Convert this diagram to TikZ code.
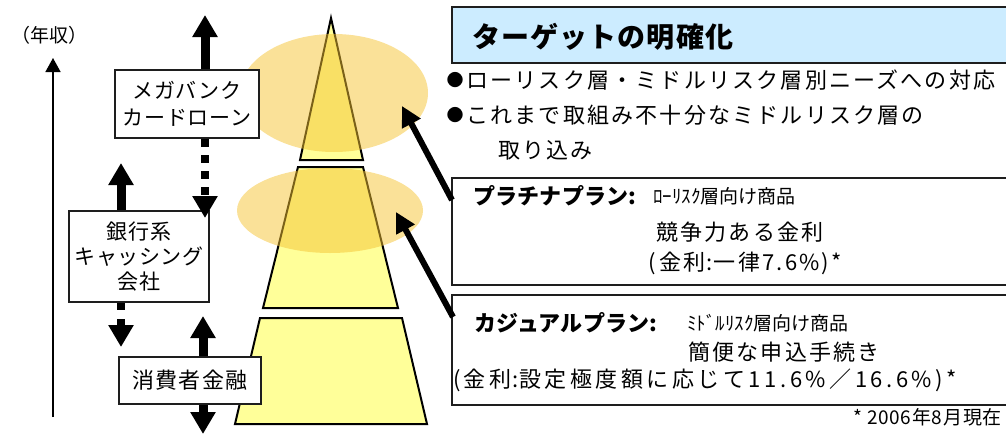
\documentclass[tikz,border=0pt]{standalone}
\usepackage{fontspec}
\setmainfont{Noto Sans CJK JP}
\usetikzlibrary{arrows.meta}
\definecolor{pyr}{RGB}{255,255,153}
\definecolor{ell}{RGB}{245,195,50}
\definecolor{hdr}{RGB}{204,236,255}
\definecolor{bord}{RGB}{30,30,30}
\begin{document}
\begin{tikzpicture}[x=1pt,y=-1pt,
  pyrpart/.style={draw=black, line width=2pt, fill=pyr, line join=miter},
  hilite/.style={fill=ell, fill opacity=0.5},
  leftbox/.style={draw=bord, line width=2pt, fill=white, align=center, inner sep=0pt,
    font=\fontsize{21}{27}\selectfont\addfontfeature{LetterSpace=4}},
  rbox/.style={draw=bord, line width=1.6pt},
  bigarrow/.style={line width=9pt, -{Triangle[width=24pt,length=22pt]}},
  ptrarrow/.style={line width=6pt, -{Triangle[width=20pt,length=20pt]}},
  txt/.style={anchor=west, inner sep=0pt, font=\fontsize{22}{26}\selectfont\addfontfeature{LetterSpace=10}},
  btxt/.style={anchor=west, inner sep=0pt, font=\fontsize{22}{26}\selectfont\bfseries\addfontfeature{LetterSpace=1}},
  stxt/.style={anchor=west, inner sep=0pt, font=\fontsize{19}{22}\selectfont},
  dot/.style={inner sep=0pt, font=\fontsize{17}{18}\selectfont}
]
\useasboundingbox (0,0) rectangle (1006,434);

% income axis
\node[inner sep=0pt, font=\fontsize{19}{20}\selectfont] (inc) at (50,35) {（年収）};
\coordinate (axbot) at (53,417);
\coordinate (axtop) at (53,58);
\draw[line width=1.5pt, -{Triangle[width=15pt,length=14pt]}] (axbot) -- (axtop);

% pyramid
\draw[pyrpart] (331,18) -- (363,160) -- (300,160) -- cycle;
\draw[pyrpart] (298,167) -- (363,167) -- (398,308) -- (263,308) -- cycle;
\draw[pyrpart] (260,318) -- (402,318) -- (427,424) -- (235,424) -- cycle;

% highlight ellipses
\fill[hilite] (334,93) ellipse [x radius=94pt, y radius=59pt];
\fill[hilite] (330,210.5) ellipse [x radius=93pt, y radius=42.5pt];
\coordinate (e1) at (402,106);
\coordinate (e2) at (396,212);

% left boxes
\node[leftbox, minimum width=144pt, minimum height=68pt] (mb) at (187,104) {メガバンク\\カードローン};
\node[leftbox, minimum width=140pt, minimum height=91pt, font=\fontsize{21}{25}\selectfont\addfontfeature{LetterSpace=3}] (bk) at (139,256.5) {銀行系\\キャッシング\\会社};
\node[leftbox, minimum width=142pt, minimum height=47pt, font=\fontsize{22}{25}\selectfont\addfontfeature{LetterSpace=6}] (cf) at (190,380.5) {消費者金融};

\coordinate (mbup) at (205,15);
\coordinate (mbdn) at (205,218);
\coordinate (bkup) at (121,163);
\coordinate (bkdn) at (121,347);
\coordinate (cfup) at (203,316);
\coordinate (cfdn) at (203,434);

\draw[bigarrow] (mb.north -| mbup) -- (mbup);
\draw[bigarrow, line width=8pt, dash pattern=on 8pt off 8pt] (mb.south -| mbdn) -- (mbdn);
\draw[bigarrow] (bk.north -| bkup) -- (bkup);
\draw[bigarrow, line width=8pt, dash pattern=on 7pt off 9pt] (bk.south -| bkdn) -- (bkdn);
\draw[bigarrow] (cf.north -| cfup) -- (cfup);
\draw[bigarrow] (cf.south -| cfdn) -- (cfdn);

% right side header
\draw[rbox, fill=hdr] (1010,7) -- (452,7) -- (452,63) -- (1010,63);
\node[anchor=west, inner sep=0pt, font=\fontsize{28}{30}\selectfont\bfseries\addfontfeature{LetterSpace=4}] (title) at (472,37) {ターゲットの明確化};

\node[dot] (b1) at (455,80) {●};
\node[txt] (t1) at (466,80) {ローリスク層・ミドルリスク層別ニーズへの対応};
\node[dot] (b2) at (455,115) {●};
\node[txt] (t2) at (466,115) {これまで取組み不十分なミドルリスク層の};
\node[txt] (t3) at (498,150) {取り込み};

% platinum plan box
\draw[rbox] (1010,178) -- (452,178) -- (452,285) -- (1010,285);
\coordinate (pbl) at (452,200);
\node[btxt] (p1) at (473,196) {プラチナプラン:};
\node[stxt] (p2) at (653,196) {ﾛｰﾘｽｸ層向け商品};
\node[txt] (p3) at (656,232) {競争力ある金利};
\node[txt] (p4) at (648,263) {(\hspace{4pt}金利\hspace{1pt}:\hspace{1pt}一律7.6\%)*};

% casual plan box
\draw[rbox] (1010,295) -- (452,295) -- (452,405) -- (1010,405);
\coordinate (cbl) at (453,317);
\node[btxt] (c1) at (474,323) {カジュアルプラン:};
\node[stxt] (c2) at (687,323) {ﾐﾄﾞﾙﾘｽｸ層向け商品};
\node[txt] (c3) at (688,352) {簡便な申込手続き};
\node[txt, font=\fontsize{22}{26}\selectfont\addfontfeature{LetterSpace=16}] (c4) at (453,380) {(\hspace{3pt}金利\hspace{1pt}:\hspace{1pt}設定極度額に応じて11.6\%／16.6\%)*};

\node[anchor=east, inner sep=0pt, font=\fontsize{19}{20}\selectfont\addfontfeature{LetterSpace=4}] (fn) at (1002,417) {* 2006年8月現在};

% pointer arrows
\draw[ptrarrow] (pbl) -- (e1);
\draw[ptrarrow] (cbl) -- (e2);
\end{tikzpicture}
\end{document}
